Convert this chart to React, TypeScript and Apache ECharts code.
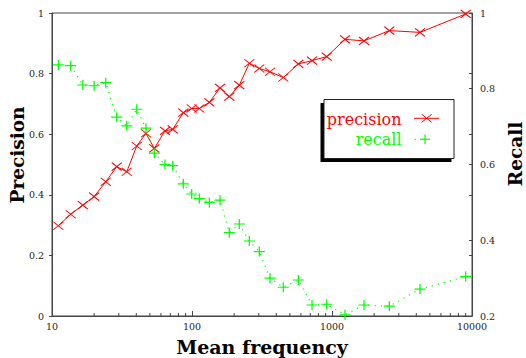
import React, { useEffect, useRef } from "react";
import * as echarts from "echarts";

// Mean frequency (x positions shared by both series)
const meanFrequency = [11.1, 13.6, 16.6, 20.0, 24.2, 29.0, 34.2, 40.3, 46.9, 53.8, 64.1, 72.8, 86.7, 99.5, 112.8, 133, 158.5, 184.7, 217.7, 256.7, 302.5, 360.7, 449, 575, 720, 917, 1238, 1693, 2567, 4252, 9015];
const precision = [0.298, 0.336, 0.366, 0.394, 0.443, 0.493, 0.476, 0.561, 0.603, 0.553, 0.611, 0.616, 0.671, 0.685, 0.685, 0.705, 0.753, 0.724, 0.762, 0.834, 0.817, 0.806, 0.787, 0.832, 0.843, 0.856, 0.913, 0.908, 0.942, 0.936, 0.997];
const recall = [0.863, 0.861, 0.810, 0.808, 0.816, 0.725, 0.702, 0.746, 0.696, 0.630, 0.600, 0.597, 0.549, 0.522, 0.510, 0.500, 0.506, 0.420, 0.443, 0.398, 0.370, 0.300, 0.276, 0.295, 0.229, 0.231, 0.203, 0.229, 0.226, 0.271, 0.304];

const xMajorTicks = [10, 100, 1000, 10000];
const xMinorTicks = [20, 30, 40, 50, 60, 70, 80, 90, 200, 300, 400, 500, 600, 700, 800, 900, 2000, 3000, 4000, 5000, 6000, 7000, 8000, 9000];

const RED = "#ff0000";
const GREEN = "#00ff00";
const AXIS = "#444444";
const SERIF = "'DejaVu Serif', serif";

const crossPath = "path://M0,0L10,10M0,10L10,0";
const plusPath = "path://M5,0L5,10M0,5L10,5";

export default function App() {
  const ref = useRef<HTMLDivElement>(null);
  useEffect(() => {
    if (!ref.current) return;
    const chart = echarts.init(ref.current, null, { renderer: "svg" });
    const precData = meanFrequency.map((x, i) => [x, precision[i]]);
    const recData = meanFrequency.map((x, i) => [x, recall[i]]);
    const tickLabel = { fontFamily: SERIF, fontSize: 9.5, color: "#222" };
    const titleFont = `bold 18.5px ${SERIF}`;
    chart.setOption({
      animation: false,
      grid: {
        left: 52, right: 54, top: 13, bottom: 42,
        containLabel: false,
        outerBoundsMode: "none",
        show: true, borderColor: AXIS, borderWidth: 1, backgroundColor: "transparent",
      },
      xAxis: {
        type: "log", logBase: 10, min: 10, max: 10000,
        axisLine: { show: true, lineStyle: { color: AXIS } },
        axisTick: { show: true, inside: true, length: 5, lineStyle: { color: AXIS } },
        axisLabel: { ...tickLabel, margin: 5, formatter: (v: number) => (xMajorTicks.includes(Math.round(v)) ? String(Math.round(v)) : "") },
        splitLine: { show: false },
        name: "Mean frequency", nameLocation: "middle", nameGap: 21,
        nameTextStyle: { fontFamily: SERIF, fontSize: 19, fontWeight: "bold", color: "#000", lineHeight: 19 },
      },
      yAxis: [
        {
          type: "value", min: 0, max: 1, interval: 0.2, position: "left",
          axisLine: { show: true, lineStyle: { color: AXIS } },
          axisTick: { show: true, inside: false, length: 3, lineStyle: { color: AXIS } },
          axisLabel: { ...tickLabel, margin: 8 },
          splitLine: { show: false },
        },
        {
          type: "value", min: 0.2, max: 1, interval: 0.2, position: "right",
          axisLine: { show: true, lineStyle: { color: AXIS } },
          axisTick: { show: true, inside: true, length: 3, lineStyle: { color: AXIS } },
          axisLabel: { ...tickLabel, margin: 8, formatter: (v: number) => String(Math.round(v * 10) / 10) },
          splitLine: { show: false },
        },
        {
          type: "value", min: 0, max: 1, interval: 0.2, position: "right",
          axisLine: { show: false },
          axisTick: { show: true, inside: true, length: 3, lineStyle: { color: AXIS } },
          axisLabel: { show: false },
          splitLine: { show: false },
        },
      ],
      series: [
        {
          type: "custom", xAxisIndex: 0, yAxisIndex: 0, silent: true, clip: false,
          data: xMinorTicks.map((v) => [v, 0]),
          renderItem: (_p: any, api: any) => {
            const pt = api.coord([api.value(0), 0]);
            return {
              type: "line",
              shape: { x1: pt[0], y1: pt[1], x2: pt[0], y2: pt[1] - 3 },
              style: { stroke: AXIS, lineWidth: 1 },
            };
          },
        },
        {
          name: "precision", type: "line", yAxisIndex: 0, data: precData,
          color: RED,
          symbol: crossPath, symbolSize: [10, 8],
          itemStyle: { color: RED, borderColor: RED, borderWidth: 1 },
          lineStyle: { color: RED, width: 1 },
          clip: false,
        },
        {
          name: "recall", type: "line", yAxisIndex: 1, data: recData,
          color: GREEN,
          symbol: plusPath, symbolSize: [11, 10],
          itemStyle: { color: GREEN, borderColor: GREEN, borderWidth: 1.2 },
          lineStyle: { color: GREEN, width: 1.2, type: [1.2, 5] },
          clip: false,
        },
      ],
      graphic: [
        { type: "text", x: 17.5, y: 155, rotation: Math.PI / 2, style: { text: "Precision", fill: "#000", font: titleFont, textAlign: "center", textVerticalAlign: "middle" } },
        { type: "text", x: 515, y: 154, rotation: Math.PI / 2, style: { text: "Recall", fill: "#000", font: titleFont, textAlign: "center", textVerticalAlign: "middle" } },
        { type: "rect", shape: { x: 320.5, y: 103, width: 131, height: 59 }, style: { fill: "#000" }, z: 100 },
        { type: "rect", shape: { x: 324, y: 99.5, width: 130, height: 59 }, style: { fill: "#fff", stroke: "#222", lineWidth: 1 }, z: 101 },
        { type: "text", x: 401.5, y: 119, style: { text: "precision", fill: RED, font: `16px ${SERIF}`, textAlign: "right", textVerticalAlign: "middle" }, z: 102 },
        { type: "text", x: 401.5, y: 139.5, style: { text: "recall", fill: GREEN, font: `16px ${SERIF}`, textAlign: "right", textVerticalAlign: "middle" }, z: 102 },
        { type: "line", shape: { x1: 414, y1: 118.3, x2: 439.3, y2: 118.3 }, style: { stroke: RED, lineWidth: 1 }, z: 102 },
        { type: "line", shape: { x1: 421.7, y1: 114.3, x2: 431.7, y2: 122.3 }, style: { stroke: RED, lineWidth: 1 }, z: 102 },
        { type: "line", shape: { x1: 421.7, y1: 122.3, x2: 431.7, y2: 114.3 }, style: { stroke: RED, lineWidth: 1 }, z: 102 },
        { type: "line", shape: { x1: 414.5, y1: 139.3, x2: 415.7, y2: 139.3 }, style: { stroke: GREEN, lineWidth: 1.2 }, z: 102 },
        { type: "line", shape: { x1: 420, y1: 139.3, x2: 430, y2: 139.3 }, style: { stroke: GREEN, lineWidth: 1.2 }, z: 102 },
        { type: "line", shape: { x1: 425, y1: 134.5, x2: 425, y2: 144.3 }, style: { stroke: GREEN, lineWidth: 1.2 }, z: 102 },
      ],
    });
    return () => chart.dispose();
  }, []);
  return <div ref={ref} style={{ width: 526, height: 358, position: "absolute", left: 0, top: 0, background: "#fff" }} />;
}
